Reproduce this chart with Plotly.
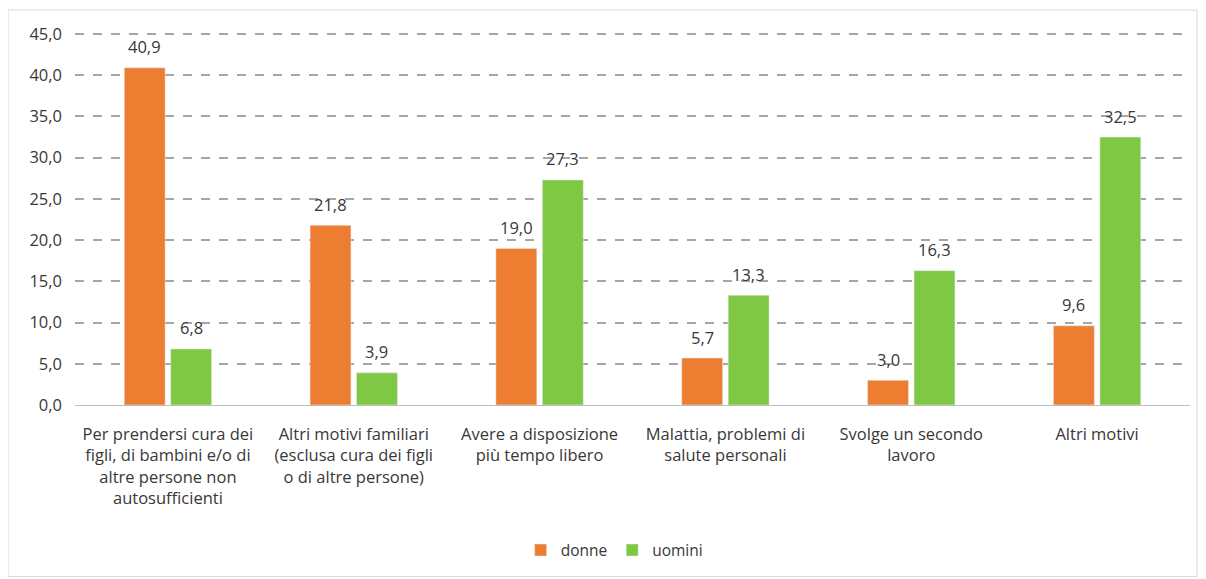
import plotly.graph_objs as go

# Dati
categorie = [
    'Per prendersi cura dei<br>figli, di bambini e/o di<br>altre persone non<br>autosufficienti',
    'Altri motivi familiari<br>(esclusa cura dei figli<br>o di altre persone)',
    'Avere a disposizione<br>più tempo libero',
    'Malattia, problemi di<br>salute personali',
    'Svolge un secondo<br>lavoro',
    'Altri motivi',
]
donne = [40.9, 21.8, 19.0, 5.7, 3.0, 9.6]
uomini = [6.8, 3.9, 27.3, 13.3, 16.3, 32.5]
y_ticks = [0, 5, 10, 15, 20, 25, 30, 35, 40, 45]

font_txt = 'Open Sans, sans-serif'
grigio = '#383838'
fs = 16.5

# dimensioni (la pagina ha un margine di 8px)
W, H = 1190, 569
ml, mr, mt, mb = 67, 8, 24, 172
pw, ph = W - ml - mr, H - mt - mb
y_max = 45.25
bargap, groupgap = 0.5, 0.12
cat_px = pw / len(categorie)
half = cat_px * (1 - bargap) / 4  # distanza centro barra dal centro categoria

bar_donne = go.Bar(name='donne', x=categorie, y=donne, marker=dict(color='#ED7D31'))
bar_uomini = go.Bar(name='uomini', x=categorie, y=uomini, marker=dict(color='#7FC843'))

# etichette dei valori
annotazioni = []
for serie, shift in ((donne, -half), (uomini, half)):
    for cat, val in zip(categorie, serie):
        annotazioni.append(dict(x=cat, y=val, text='{:.1f}'.format(val).replace('.', ','),
                                showarrow=False, xshift=shift, yshift=21, yanchor='middle',
                                font=dict(size=fs, color=grigio, family=font_txt)))

layout = go.Layout(
    width=W, height=H,
    margin=dict(l=ml, r=mr, t=mt, b=mb),
    paper_bgcolor='white', plot_bgcolor='white',
    separators=',.',
    barmode='group', bargap=bargap, bargroupgap=groupgap,
    font=dict(family=font_txt, size=fs, color=grigio),
    xaxis=dict(showline=True, linecolor='#BFBFBF', linewidth=1, ticks='',
               ticklabelstandoff=14, tickfont=dict(size=fs, color=grigio)),
    yaxis=dict(range=[0, y_max], tickvals=y_ticks, tickformat='.1f',
               showgrid=True, gridcolor='#A6A6A6', griddash='dash', gridwidth=1.5,
               zeroline=False, ticks='', ticklabelstandoff=12,
               tickfont=dict(size=fs, color=grigio)),
    legend=dict(orientation='h', x=0.484, xanchor='center', y=-0.39, yanchor='middle',
                font=dict(size=fs - 1, color=grigio), itemwidth=30, traceorder='normal'),
    showlegend=True,
    annotations=annotazioni,
    shapes=[dict(type='rect', xref='paper', yref='paper',
                 x0=-ml / pw, x1=(W - ml - 1) / pw,
                 y0=-mb / ph + 0.001, y1=(ph + mt - 2) / ph,
                 line=dict(color='#D9D9D9', width=1))],
)

fig = go.Figure(data=[bar_donne, bar_uomini], layout=layout)
fig.write_html("out.html")
